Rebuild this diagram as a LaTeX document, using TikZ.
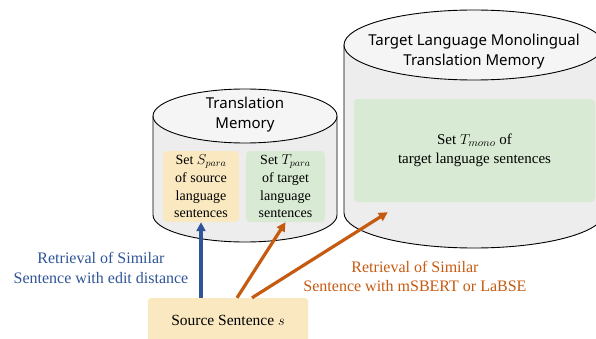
\documentclass[tikz,border=0pt]{standalone}
\usepackage{fontspec}
\setmainfont{Liberation Serif}
\setsansfont{Noto Sans}
\usetikzlibrary{positioning,calc,arrows.meta}

\definecolor{tmbody}{HTML}{EDEDED}
\definecolor{tmtop}{HTML}{F5F5F5}
\definecolor{setyellow}{HTML}{FAE8C0}
\definecolor{setgreen}{HTML}{D8EAD3}
\definecolor{editblue}{HTML}{2F5597}
\definecolor{embedorange}{HTML}{C55A11}

\tikzset{
  setbox/.style={rounded corners=4pt, inner sep=0pt, align=center,
    font=\fontsize{14}{17.7}\selectfont},
  dblabel/.style={font=\sffamily\fontsize{15}{20}\selectfont, align=center},
  retrieve/.style={-{Triangle[length=9pt,width=9pt]}, line width=3.2pt},
  retlabel/.style={align=center, font=\fontsize{16}{19.5}\selectfont},
}

\begin{document}
\begin{tikzpicture}[x=1pt,y=1pt]
  \useasboundingbox (0,0) rectangle (596,338);
  \clip (0,0) rectangle (596,338);
  % translation memory (small cylinder)
  \filldraw[fill=tmbody,draw=black,line width=0.9pt]
    (153,222) -- (153,123) arc[start angle=180,end angle=360,x radius=92,y radius=27] -- (337,222);
  \filldraw[fill=tmtop,draw=black,line width=0.9pt] (245,222) ellipse[x radius=92,y radius=27];
  \node[dblabel] (tmlabel) at (245,223) {Translation\\Memory};
  % monolingual memory (big cylinder)
  \filldraw[fill=tmbody,draw=black,line width=0.9pt]
    (344,293) -- (344,125) arc[start angle=180,end angle=360,x radius=130,y radius=35] -- (604,293);
  \filldraw[fill=tmtop,draw=black,line width=0.9pt] (474,293) ellipse[x radius=130,y radius=35];
  \node[dblabel] (monolabel) at (474,286.5) {Target Language Monolingual\\Translation Memory};
  % sets
  \node[setbox,fill=setyellow,minimum width=76pt,minimum height=71pt] (spara) at (201,151.5)
    {Set $S_{para}$\\of source\\language\\sentences};
  \node[setbox,fill=setgreen,minimum width=79pt,minimum height=71pt] (tpara) at (285.5,151.5)
    {Set $T_{para}$\\of target\\language\\sentences};
  \node[setbox,fill=setgreen,minimum width=241pt,minimum height=103pt,
    font=\fontsize{15}{19}\selectfont] (tmono) at (474.5,187.5)
    {Set $T_{mono}$ of\\target language sentences};
  \coordinate (monotip) at ($(tmono.south west)+(34,-10)$);
  % source sentence
  \node[setbox,fill=setyellow,rounded corners=3pt,minimum width=160pt,minimum height=44pt,
    font=\fontsize{15.5}{19}\selectfont] (src) at (228,18) {Source Sentence $s$};
  % retrieval arrows
  \draw[retrieve,editblue] (spara.south |- src.north) -- (spara.south);
  \draw[retrieve,embedorange] ($(src.north)+(9,0)$) -- (tpara.south);
  \draw[retrieve,embedorange] ($(src.north)+(24,0)$) -- (monotip);
  \node[retlabel,text=editblue] (editlabel) at (101,70)
    {Retrieval of Similar\\Sentence with edit distance};
  \node[retlabel,text=embedorange] (embedlabel) at (415,61.5)
    {Retrieval of Similar\\Sentence with mSBERT or LaBSE};
\end{tikzpicture}
\end{document}
